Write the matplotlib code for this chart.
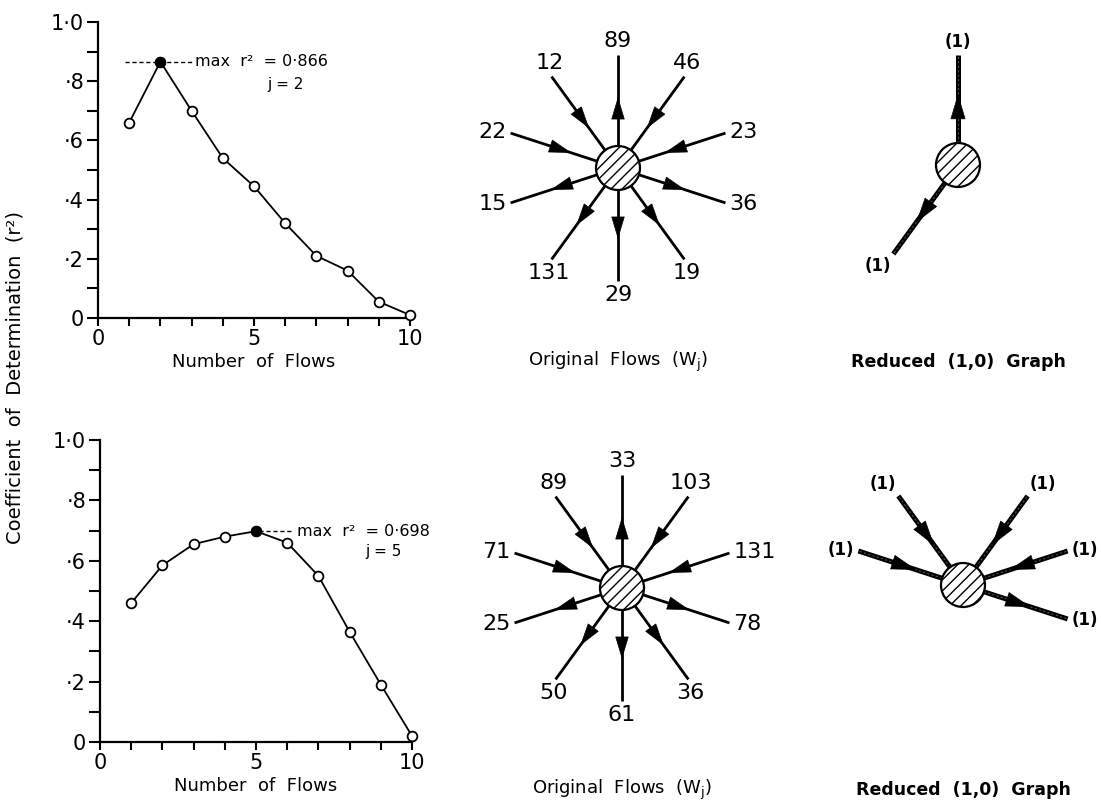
import numpy as np
import matplotlib

matplotlib.use("Agg")
import matplotlib.pyplot as plt
from matplotlib.patches import Circle

W, H = 1101, 802

# r² against number of flows kept (top and bottom zone)
n_flows = np.arange(1, 11)
r2_top = [0.66, 0.866, 0.70, 0.54, 0.445, 0.32, 0.21, 0.16, 0.055, 0.01]
r2_bottom = [0.46, 0.585, 0.655, 0.68, 0.698, 0.66, 0.55, 0.365, 0.19, 0.02]
best_j = [2, 5]

y_ticks = [0, 0.2, 0.4, 0.6, 0.8, 1.0]
y_tick_labels = ["0", "·2", "·4", "·6", "·8", "1·0"]
x_ticks = [0, 5, 10]

# flows around each zone, spokes clockwise from the top
spoke_angles = [90, 54, 18, -18, -54, -90, -126, -162, 162, 126]
spoke_out = [True, False, False, True, True, True, True, True, False, False]
flows_top = [89, 46, 23, 36, 19, 29, 131, 15, 22, 12]
flows_bottom = [33, 103, 131, 78, 36, 61, 50, 25, 71, 89]

plt.rcParams["font.family"] = ["DejaVu Sans"]
plt.rcParams["mathtext.default"] = "regular"
plt.rcParams["hatch.linewidth"] = 1.0

fig = plt.figure(figsize=(W / 100, H / 100), dpi=100)


def px_rect(left, top, width, height):
    return [left / W, 1 - (top + height) / H, width / W, height / H]


def r2_panel(rect, r2, j, dash_from, note_x, j_pos):
    ax = fig.add_axes(rect)
    ax.plot(n_flows, r2, color="black", lw=1.3, marker="o", ms=7,
            mfc="white", mec="black", mew=1.3, clip_on=False, zorder=3)
    best = r2[j - 1]
    ax.plot(n_flows[j - 1], best, "o", color="black", ms=7, zorder=4)
    ax.plot([dash_from, note_x - 0.1], [best, best], color="black",
            lw=1, ls=(0, (3, 2)), zorder=2)
    note = f"max  r²  = {best:.3f}".replace("0.", "0·")
    ax.text(note_x, best, note, fontsize=11.5, va="center", ha="left",
            clip_on=False)
    ax.text(j_pos[0], j_pos[1], f"j = {j}", fontsize=11, va="center", ha="center")

    ax.set_xlim(0, 10)
    ax.set_ylim(0, 1)
    for side in ["top", "right"]:
        ax.spines[side].set_visible(False)
    for side in ["left", "bottom"]:
        ax.spines[side].set_linewidth(1.6)
    ax.set_yticks(y_ticks, y_tick_labels)
    ax.set_yticks(np.arange(0.1, 1.0, 0.2), minor=True)
    ax.set_xticks(x_ticks)
    ax.set_xticks([k for k in range(11) if k not in x_ticks], minor=True)
    ax.tick_params(axis="y", which="both", direction="out", length=8,
                   width=1.5, labelsize=15, pad=2)
    ax.tick_params(axis="x", which="both", direction="out", length=6,
                   width=1.5, labelsize=15, pad=2)
    ax.set_xlabel("Number  of  Flows", fontsize=13, labelpad=3)
    return ax


def star(center, values, caption, caption_y, keep=None):
    cx, cy = center
    ax = fig.add_axes(px_rect(cx - 150, cy - 150, 300, 300))
    ax.set_xlim(-150, 150)
    ax.set_ylim(-150, 150)
    ax.axis("off")

    reduced = keep is not None
    idx = range(len(values))
    if reduced:
        idx = sorted(np.argsort(values)[::-1][:keep])

    r_end = 110 if reduced else 113
    for i in idx:
        a = np.deg2rad(spoke_angles[i])
        d = np.array([np.cos(a), np.sin(a)])
        p0, p1 = d * 22, d * r_end
        if reduced:
            ax.plot([p0[0], p1[0]], [p0[1], p1[1]], color="black",
                    lw=3.6, solid_capstyle="butt", zorder=2)
            ax.plot([p0[0], p1[0]], [p0[1], p1[1]], color="#505050",
                    lw=0.8, ls=(0, (2, 2)), zorder=2)
        else:
            ax.plot([p0[0], p1[0]], [p0[1], p1[1]], color="black",
                    lw=2.0, solid_capstyle="butt", zorder=2)
        if spoke_out[i]:
            tip, tail = d * 71, d * 51
        else:
            tip, tail = d * 49, d * 69
        ax.annotate("", xy=tip, xytext=tail,
                    arrowprops=dict(arrowstyle="-|>,head_length=1.0,head_width=0.3",
                                    mutation_scale=17 if reduced else 15,
                                    color="black", lw=0.5, shrinkA=0, shrinkB=0),
                    zorder=3)

        c, s = d
        lim = 0.5 if reduced else 0.7
        ha = "left" if c > lim else "right" if c < -lim else "center"
        va = "bottom" if s > 0.5 else "top" if s < -0.5 else "center"
        r_lab = 114 if reduced else 117
        text = "(1)" if reduced else str(values[i])
        ax.text(c * r_lab, s * r_lab, text, ha=ha, va=va,
                fontsize=12 if reduced else 16,
                fontweight="bold" if reduced else "normal")

    ax.add_patch(Circle((0, 0), 22, facecolor="white", edgecolor="black",
                        lw=1.6, hatch="///", zorder=5))
    fig.text(cx / W, 1 - caption_y / H, caption, ha="center", va="center",
             fontsize=12.5 if reduced else 13,
             fontweight="bold" if reduced else "normal")


ax_top = r2_panel(px_rect(98, 22, 312, 296), r2_top, best_j[0], 0.87, 3.1, (6.0, 0.79))
ax_bot = r2_panel(px_rect(100, 440, 312, 302), r2_bottom, best_j[1], 5.1, 6.3, (9.1, 0.63))

fig.text(15 / W, 1 - 378 / H, "Coefficient  of  Determination  (r²)",
         rotation=90, ha="center", va="center", fontsize=14)

star((618, 168), flows_top, "Original  Flows  (W$_j$)", 362)
star((958, 165), flows_top, "Reduced  (1,0)  Graph", 362, keep=best_j[0])
star((622, 588), flows_bottom, "Original  Flows  (W$_j$)", 790)
star((963, 585), flows_bottom, "Reduced  (1,0)  Graph", 790, keep=best_j[1])

fig.savefig("out.png", dpi=100)
